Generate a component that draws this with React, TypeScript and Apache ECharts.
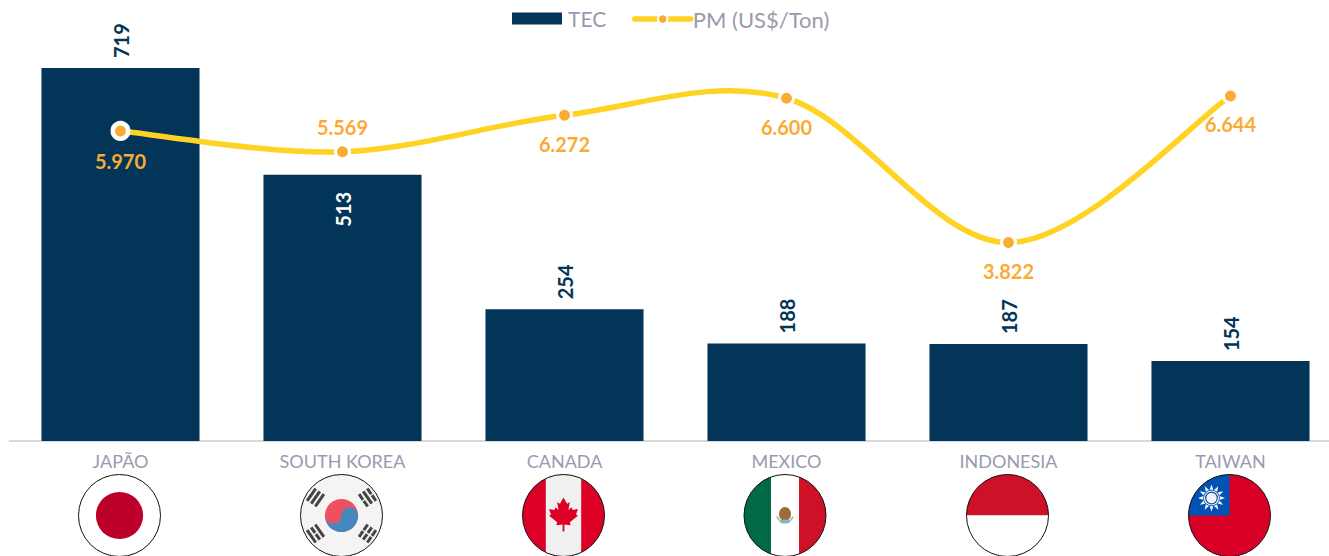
import React, { useEffect, useRef } from "react";
import * as echarts from "echarts";

const categories = ["JAPÃO", "SOUTH KOREA", "CANADA", "MEXICO", "INDONESIA", "TAIWAN"];
const tecValues = [719, 513, 254, 188, 187, 154];
const pmValues = [5970, 5569, 6272, 6600, 3822, 6644];
const pmLabelPositions = ["bottom", "top", "bottom", "bottom", "bottom", "bottom"];
const flagCenters = [119.5, 341.5, 563.5, 785, 1007.5, 1229.5];

const NAVY = "#023557";
const YELLOW = "#FFD324";
const ORANGE = "#FBAB33";
const GREY = "#9A9AAE";
const FONT = "Lato, 'Noto Sans', sans-serif";

const leaf =
  "M0,-19 L4,-12 L7,-14 L5.5,-5 L9,-8 L10,-5 L16,-6 L14,0 L16,1.5 L7,8.5 L8,12 L1,11 L1,19 L-1,19 L-1,11 L-8,12 L-7,8.5 L-16,1.5 L-14,0 L-16,-6 L-10,-5 L-9,-8 L-5.5,-5 L-7,-14 L-4,-12 Z";

function trigram(x: number, y: number, rot: number, breaks: boolean[]) {
  return `<g transform="translate(${x} ${y}) rotate(${rot})">` +
    [-5, 0, 5].map((o, i) =>
      breaks[i]
        ? `<rect x="-7.5" y="${o - 1.5}" width="6.8" height="3" fill="#444"/><rect x="0.7" y="${o - 1.5}" width="6.8" height="3" fill="#444"/>`
        : `<rect x="-7.5" y="${o - 1.5}" width="15" height="3" fill="#444"/>`
    ).join("") + `</g>`;
}

const sunRays = Array.from({ length: 12 }, (_, i) =>
  `<polygon points="-1.9,-8.2 1.9,-8.2 0,-13.5" fill="#f2f2f2" transform="translate(-18 -17.5) rotate(${i * 30})"/>`
).join("");

const flagBodies: string[] = [
  `<rect x="-42" y="-42" width="84" height="84" fill="#fff"/><circle r="23.6" cy="0" fill="#BD0029"/>`,
  `<rect x="-42" y="-42" width="84" height="84" fill="#F4F4F4"/>
   <circle r="16.6" fill="#EF5061"/>
   <path d="M-16.6,0 A16.6,16.6 0 0 0 16.6,0 A8.3,8.3 0 0 0 0,0 A8.3,8.3 0 0 1 -16.6,0Z" fill="#4588C0"/>
   ${trigram(-26, -18, -55, [false, false, false])}
   ${trigram(26, -18, 55, [true, false, true])}
   ${trigram(-26, 18, 55, [false, true, false])}
   ${trigram(26, 18, -55, [true, true, true])}`,
  `<rect x="-42" y="-42" width="84" height="84" fill="#DC0026"/>
   <rect x="-17.7" y="-42" width="35.4" height="84" fill="#F0F0F0"/>
   <path d="${leaf}" fill="#DC0026" transform="translate(0 -1) scale(0.9)"/>`,
  `<rect x="-42" y="-42" width="28" height="84" fill="#006A44"/>
   <rect x="-14" y="-42" width="28" height="84" fill="#fff"/>
   <rect x="14" y="-42" width="28" height="84" fill="#CE1126"/>
   <ellipse cx="0" cy="-1.5" rx="6" ry="7" fill="#9A6B3C"/>
   <path d="M-9,1 A9.5,9.5 0 0 0 9,1 L7,1 A7.5,7.5 0 0 1 -7,1Z" fill="#A9BE9C"/>
   <ellipse cx="0" cy="6" rx="5" ry="2" fill="#7FB8CE"/>`,
  `<rect x="-42" y="-42" width="84" height="42" fill="#CE1126"/><rect x="-42" y="0" width="84" height="42" fill="#fff"/>`,
  `<rect x="-42" y="-42" width="84" height="84" fill="#D80027"/>
   <rect x="-42" y="-42" width="42" height="42" fill="#0052B4"/>
   ${sunRays}
   <circle cx="-18" cy="-17.5" r="7.6" fill="#f2f2f2"/><circle cx="-18" cy="-17.5" r="6.4" fill="#0052B4"/><circle cx="-18" cy="-17.5" r="5.2" fill="#f2f2f2"/>`,
];

function flagUri(body: string, i: number) {
  const svg = `<svg xmlns="http://www.w3.org/2000/svg" width="84" height="84" viewBox="-42 -42 84 84"><defs><clipPath id="c${i}"><circle r="41"/></clipPath></defs><g clip-path="url(#c${i})">${body}</g><circle r="41" fill="none" stroke="#111" stroke-width="1"/></svg>`;
  return "data:image/svg+xml;charset=utf-8," + encodeURIComponent(svg);
}

// One cubic segment per point, tangents from the neighbouring points (spreadsheet-style smoothing).
function renderCurveSegment(params: any, api: any) {
  const i = params.dataIndex;
  if (i >= pmValues.length - 1) return null;
  const at = (k: number) => {
    const c = Math.max(0, Math.min(pmValues.length - 1, k));
    return api.coord([c, pmValues[c]]);
  };
  const p0 = at(i - 1), p1 = at(i), p2 = at(i + 1), p3 = at(i + 2);
  return {
    type: "bezierCurve",
    shape: {
      x1: p1[0],
      y1: p1[1],
      cpx1: p1[0] + (p2[0] - p0[0]) / 6,
      cpy1: p1[1] + (p2[1] - p0[1]) / 6,
      cpx2: p2[0] - (p3[0] - p1[0]) / 6,
      cpy2: p2[1] - (p3[1] - p1[1]) / 6,
      x2: p2[0],
      y2: p2[1],
    },
    style: { stroke: YELLOW, lineWidth: 5.5, fill: "none", lineCap: "round" },
  };
}

export default function App() {
  const ref = useRef<HTMLDivElement>(null);
  useEffect(() => {
    document.body.style.margin = "0";
    const chart = echarts.init(ref.current!, undefined, { renderer: "svg" });
    chart.setOption({
      animation: false,
      backgroundColor: "#fff",
      textStyle: { fontFamily: FONT },
      legend: [
        {
          left: 512,
          top: 8,
          padding: 0,
          itemWidth: 50,
          itemHeight: 12,
          textStyle: { color: GREY, fontSize: 21, fontFamily: FONT, padding: [0, 0, 0, 1] },
          data: [{ name: "TEC", icon: "rect" }],
        },
        {
          left: 632,
          top: 8,
          padding: 0,
          itemWidth: 56,
          itemHeight: 12,
          lineStyle: { color: YELLOW, width: 5.5, opacity: 1, cap: "round" },
          textStyle: { color: GREY, fontSize: 22, fontFamily: FONT, padding: [0, 0, 0, -3] },
          data: [{ name: "PM (US$/Ton)" }],
        },
      ],
      grid: { left: 9.5, top: 20, width: 1332, height: 421 },
      xAxis: {
        type: "category",
        data: categories,
        axisLine: { lineStyle: { color: "#D9D9D9", width: 2 } },
        axisTick: { show: false },
        axisLabel: { color: GREY, fontSize: 18, fontFamily: FONT, margin: 11, interval: 0 },
      },
      yAxis: [
        { type: "value", min: 0, max: 811.5, show: false },
        { type: "value", min: 0, max: 8107, show: false },
      ],
      series: [
        {
          name: "TEC",
          type: "bar",
          yAxisIndex: 0,
          barWidth: "71.2%",
          itemStyle: { color: NAVY },
          data: tecValues.map((v, i) => ({
            value: v,
            label:
              i === 1
                ? { position: "insideTop", color: "#fff", distance: 17, align: "right", verticalAlign: "middle" }
                : { position: "top", color: NAVY, distance: 10, align: "left", verticalAlign: "middle" },
          })),
          label: {
            show: true,
            rotate: 90,
            fontSize: 20,
            fontWeight: "bold",
            fontFamily: FONT,
          },
        },
        {
          name: "PM curve",
          type: "custom",
          yAxisIndex: 1,
          z: 4,
          clip: false,
          silent: true,
          renderItem: renderCurveSegment,
          data: pmValues.map((v, i) => [i, v]),
          encode: { x: 0, y: 1 },
        },
        {
          name: "PM (US$/Ton)",
          type: "line",
          yAxisIndex: 1,
          z: 5,
          lineStyle: { color: YELLOW, width: 5.5, opacity: 0 },
          symbol: "circle",
          symbolSize: 14,
          itemStyle: { color: ORANGE, borderColor: "#fff", borderWidth: 3 },
          data: pmValues.map((v, i) => ({
            value: v,
            symbolSize: i === 0 ? 15.5 : 14,
            itemStyle: i === 0 ? { borderWidth: 4.5 } : undefined,
            label: {
              position: pmLabelPositions[i],
              distance: pmLabelPositions[i] === "top" ? 6 : 10,
            },
          })),
          label: {
            show: true,
            color: ORANGE,
            fontSize: 20,
            fontWeight: "bold",
            fontFamily: FONT,
            formatter: (p: any) => {
              const n = String(p.value);
              return n.slice(0, -3) + "." + n.slice(-3);
            },
          },
        },
      ],
      graphic: flagBodies.map((b, i) => ({
        type: "image",
        x: flagCenters[i] - 42,
        y: 515.5 - 42,
        silent: true,
        style: { image: flagUri(b, i), width: 84, height: 84 },
      })),
    });
    return () => chart.dispose();
  }, []);
  return (
    <div style={{ width: 1329, height: 556, overflow: "hidden" }}>
      <div ref={ref} style={{ width: 1345, height: 556 }} />
    </div>
  );
}
